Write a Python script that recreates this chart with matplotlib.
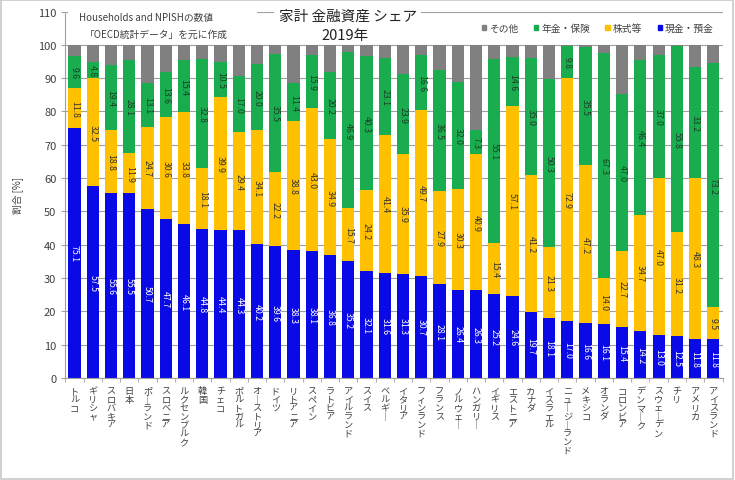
import numpy as np
import matplotlib
matplotlib.use("Agg")
import matplotlib.pyplot as plt
from matplotlib.patches import Patch, Rectangle

plt.rcParams['font.family'] = ['Noto Sans CJK JP', 'DejaVu Sans']

# ---- DATA ----
countries = ["トルコ", "ギリシャ", "スロバキア", "日本", "ポーランド", "スロベニア",
             "ルクセンブルク", "韓国", "チェコ", "ポルトガル", "オーストリア", "ドイツ",
             "リトアニア", "スペイン", "ラトビア", "アイルランド", "スイス", "ベルギー",
             "イタリア", "フィンランド", "フランス", "ノルウェー", "ハンガリー", "イギリス",
             "エストニア", "カナダ", "イスラエル", "ニュージーランド", "メキシコ", "オランダ",
             "コロンビア", "デンマーク", "スウェーデン", "チリ", "アメリカ", "アイスランド"]

cash = [75.1, 57.5, 55.6, 55.5, 50.7, 47.7, 46.1, 44.8, 44.4, 44.3, 40.2, 39.6,
        38.3, 38.1, 36.8, 35.2, 32.1, 31.6, 31.3, 30.7, 28.1, 26.4, 26.3, 25.2,
        24.6, 19.7, 18.1, 17.0, 16.6, 16.1, 15.4, 14.2, 13.0, 12.5, 11.8, 11.8]

stock = [11.8, 32.5, 18.8, 11.9, 24.7, 30.6, 33.8, 18.1, 39.9, 29.4, 34.1, 22.2,
         38.8, 43.0, 34.9, 15.7, 24.2, 41.4, 35.9, 49.7, 27.9, 30.3, 40.9, 15.4,
         57.1, 41.2, 21.3, 72.9, 47.2, 14.0, 22.7, 34.7, 47.0, 31.2, 48.3, 9.5]

pension = [9.6, 4.8, 19.4, 28.1, 13.1, 13.6, 15.4, 32.8, 10.5, 17.0, 20.0, 35.5,
           11.4, 15.9, 20.2, 46.9, 40.3, 23.1, 23.9, 16.6, 36.5, 32.0, 7.3, 55.1,
           14.6, 35.0, 50.3, 9.8, 35.5, 67.3, 47.0, 46.4, 37.0, 55.8, 33.2, 73.2]

cash = np.array(cash)
stock = np.array(stock)
pension = np.array(pension)
other = 100 - cash - stock - pension

c_cash = "#0a0ae6"
c_stock = "#ffc000"
c_pension = "#19ad50"
c_other = "#808080"

# ---- FIGURE ----
fig = plt.figure(figsize=(7.35, 4.81), dpi=100)
fig.patches.append(Rectangle((0.002, 0.003), 0.995, 0.994, transform=fig.transFigure,
                             fill=False, edgecolor="#c8c8c8", linewidth=1.2))
ax = fig.add_axes([0.089, 0.212, 0.894, 0.762])

x = np.arange(len(countries))
w = 0.67
ax.bar(x, cash, w, color=c_cash, label="現金・預金", zorder=2)
ax.bar(x, stock, w, bottom=cash, color=c_stock, label="株式等", zorder=2)
ax.bar(x, pension, w, bottom=cash + stock, color=c_pension, label="年金・保険", zorder=2)
ax.bar(x, other, w, bottom=cash + stock + pension, color=c_other, label="その他", zorder=2)

# value labels
fs = 6.3
for i in range(len(x)):
    ax.text(x[i], cash[i] / 2, f"{cash[i]:.1f}", rotation=-90, ha="center", va="center",
            fontsize=fs, color="white", zorder=3)
    ax.text(x[i], cash[i] + stock[i] / 2, f"{stock[i]:.1f}", rotation=-90, ha="center",
            va="center", fontsize=fs, color="#333333", zorder=3)
    ax.text(x[i], cash[i] + stock[i] + pension[i] / 2, f"{pension[i]:.1f}", rotation=-90,
            ha="center", va="center", fontsize=fs, color="#1d3d25", zorder=3)

ax.set_xlim(-0.5, len(x) - 0.5)
ax.set_ylim(0, 110)
ax.set_yticks(np.arange(0, 111, 10))
ax.yaxis.grid(True, color="#a0a0a0", linewidth=0.8)
ax.set_axisbelow(True)

vert = ["\n".join(n.replace("ー", "｜")) for n in countries]
ax.set_xticks(x)
ax.set_xticklabels(vert, fontsize=6.6, color="#404040", linespacing=0.92, va="top")
ax.set_xticks(np.arange(-0.5, len(x), 1), minor=True)
ax.tick_params(axis="x", which="major", length=0, pad=6)
ax.tick_params(axis="x", which="minor", length=3, color="#a0a0a0")
ax.tick_params(axis="y", labelsize=8, colors="#404040", length=3)
ax.tick_params(axis="y", color="#a0a0a0")

for s in ["top", "right"]:
    ax.spines[s].set_visible(False)
for s in ["left", "bottom"]:
    ax.spines[s].set_color("#a0a0a0")

ax.set_ylabel("割合 [%]", fontsize=7, color="#404040", labelpad=11)

# white area behind the note, hides the top gridline there
ax.add_patch(Rectangle((0.092, 0.915), 0.257, 0.07, transform=fig.transFigure,
                       facecolor="white", edgecolor="none", zorder=1, clip_on=False))

# notes and title
fig.text(0.107, 0.962, "Households and NPISHの数値", fontsize=7, color="#404040",
         va="center", ha="left")
fig.text(0.115, 0.928, "「OECD統計データ」を元に作成", fontsize=7, color="#404040",
         va="center", ha="left")
fig.text(0.473, 0.965, "家計 金融資産 シェア", fontsize=10.5, color="#222222",
         ha="center", va="center",
         bbox=dict(facecolor="white", edgecolor="none", pad=3))
fig.text(0.47, 0.925, "2019年", fontsize=10.5, color="#222222", ha="center", va="center")

handles = [Patch(color=c_other), Patch(color=c_pension), Patch(color=c_stock), Patch(color=c_cash)]
labels = ["その他", "年金・保険", "株式等", "現金・預金"]
ax.legend(handles, labels, ncol=4, loc="center right", bbox_to_anchor=(1.0, 0.955),
          frameon=False, fontsize=7, handlelength=0.45, handleheight=0.45,
          handletextpad=0.3, columnspacing=1.6, labelcolor="#404040")

fig.savefig("out.png", dpi=100)
